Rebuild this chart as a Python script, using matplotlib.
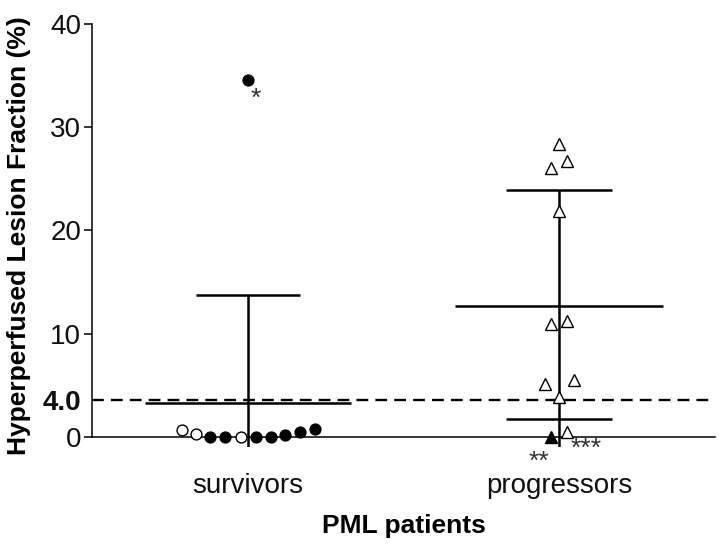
import matplotlib
matplotlib.use("Agg")
import matplotlib.pyplot as plt

plt.rcParams['font.family'] = ['Liberation Sans', 'DejaVu Sans']

groups = ["survivors", "progressors"]
group_pos = [0, 1]

# survivors: (x offset, value, filled)
surv_offsets = [-0.213, -0.165, -0.120, -0.072, -0.023, 0.025, 0.073, 0.120, 0.168, 0.215, 0.0]
surv_values = [0.7, 0.25, 0.0, 0.0, 0.0, 0.0, 0.0, 0.15, 0.5, 0.8, 34.6]
surv_filled = [False, False, True, True, False, True, True, True, True, True, True]

prog_offsets = [0.0, -0.026, 0.024, 0.0, -0.026, 0.024, -0.047, 0.047, 0.0, 0.024, -0.026]
prog_values = [28.4, 26.0, 26.7, 21.9, 10.9, 11.2, 5.1, 5.5, 3.9, 0.5, 0.0]
prog_filled = [False, False, False, False, False, False, False, False, False, False, True]

surv_mean, surv_upper = 3.3, 13.7
prog_mean, prog_upper, prog_lower = 12.7, 23.9, 1.7

threshold_pos = 3.6
ytick_vals = [0, threshold_pos, 10, 20, 30, 40]
ytick_labels = ["0", "4.0", "10", "20", "30", "40"]

fig = plt.figure(figsize=(7.2, 5.44), dpi=100)
ax = fig.add_axes([0.128, 0.178, 0.865, 0.778])
ax.set_xlim(-0.5, 1.5)
ax.set_ylim(-1.0, 40)

# threshold
ax.axhline(threshold_pos, color='black', lw=1.7, ls=(0, (5, 3)), zorder=1)

lw = 1.8
# survivors error bar
ax.vlines(group_pos[0], -1.0, surv_upper, color='black', lw=lw, zorder=2)
ax.hlines(surv_upper, group_pos[0] - 0.167, group_pos[0] + 0.167, color='black', lw=lw)
ax.hlines(surv_mean, group_pos[0] - 0.33, group_pos[0] + 0.33, color='black', lw=lw)
# progressors error bar
ax.vlines(group_pos[1], -1.0, prog_upper, color='black', lw=lw, zorder=2)
ax.hlines(prog_upper, group_pos[1] - 0.17, group_pos[1] + 0.17, color='black', lw=lw)
ax.hlines(prog_lower, group_pos[1] - 0.17, group_pos[1] + 0.17, color='black', lw=lw)
ax.hlines(prog_mean, group_pos[1] - 0.334, group_pos[1] + 0.334, color='black', lw=lw)

for off, v, f in zip(surv_offsets, surv_values, surv_filled):
    ax.plot(group_pos[0] + off, v, 'o', ms=7.8, mfc='black' if f else 'white',
            mec='black', mew=1.0, zorder=4, clip_on=False)
for off, v, f in zip(prog_offsets, prog_values, prog_filled):
    ax.plot(group_pos[1] + off, v, '^', ms=9, mfc='black' if f else 'white',
            mec='black', mew=1.0, zorder=4, clip_on=False)

ax.text(0.025, 32.7, "*", ha='center', va='center', fontsize=19, color='#333333')
ax.text(0.936, -2.4, "**", ha='center', va='center', fontsize=19, color='#333333')
ax.text(1.087, -1.2, "***", ha='center', va='center', fontsize=19, color='#333333')

for s in ['top', 'right']:
    ax.spines[s].set_visible(False)
ax.spines['bottom'].set_position(('data', 0))
ax.spines['left'].set_bounds(0, 40)
ax.spines['left'].set_linewidth(1.1)
ax.spines['bottom'].set_linewidth(1.1)

ax.set_yticks(ytick_vals)
ax.set_yticklabels(ytick_labels, fontsize=20, color='#111111')
for lab in ax.get_yticklabels():
    if lab.get_text() == "4.0":
        lab.set_fontweight('bold')
ax.tick_params(axis='y', length=6, width=1.1, pad=2)
yt = ax.yaxis.get_major_ticks()
yt[1].tick1line.set_visible(False)

ax.set_xticks(group_pos)
ax.set_xticklabels(groups, fontsize=20, color='#111111')
ax.tick_params(axis='x', length=0, pad=26)

ax.set_xlabel("PML patients", fontsize=19, fontweight='bold', labelpad=11)
ax.set_ylabel("Hyperperfused Lesion Fraction (%)", fontsize=19, fontweight='bold', labelpad=8)

fig.savefig("out.png", dpi=100)
